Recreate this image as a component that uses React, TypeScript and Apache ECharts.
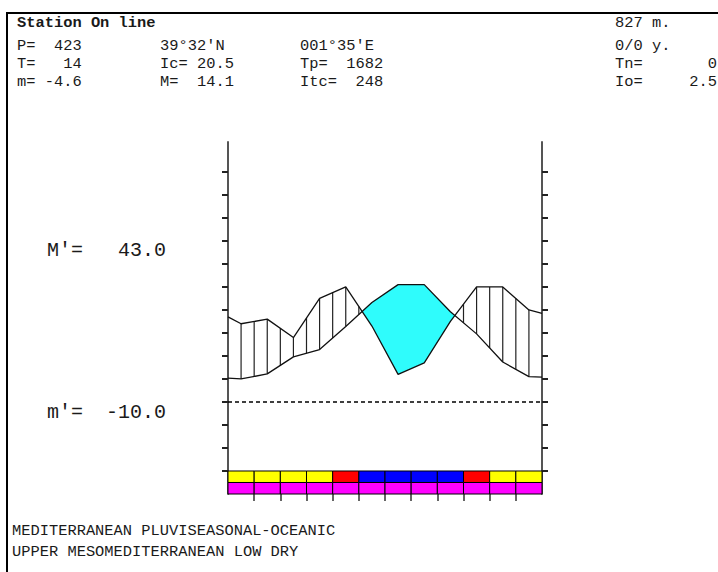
import React, { useEffect, useRef } from 'react';
import * as echarts from 'echarts';

// ---- data ----
const months = ['Jan', 'Feb', 'Mar', 'Apr', 'May', 'Jun', 'Jul', 'Aug', 'Sep', 'Oct', 'Nov', 'Dec'];
const tempMonthly = [5.0, 6.1, 9.8, 11.4, 16.4, 21.6, 25.5, 25.5, 19.6, 14.8, 8.7, 5.5];
const precipMonthly = [34, 36, 28, 45, 50, 33, 12, 17, 35, 50, 50, 40];
const tempEdges = [5.2, 5.4];
const precipEdges = [37, 38.5];
const activityRow = ['Y', 'Y', 'Y', 'Y', 'R', 'B', 'B', 'B', 'B', 'R', 'Y', 'Y'];
const baseRow = ['M', 'M', 'M', 'M', 'M', 'M', 'M', 'M', 'M', 'M', 'M', 'M'];
const tempTicks = [-15, -10, -5, 0, 5, 10, 15, 20, 25, 30, 35, 40, 45, 50];
const precipTicks = [-30, -20, -10, 0, 10, 20, 30, 40, 50, 60, 70, 80, 90, 100];
const monthTicks = [1, 2, 3, 4, 5, 6, 7, 8, 9, 10, 11];

const titleText = 'Station On line';
const altitudeText = '827 m.';
const headerCol1 = ['P=  423', 'T=   14', 'm= -4.6'];
const headerCol2 = ["39°32'N", 'Ic= 20.5', 'M=  14.1'];
const headerCol3 = ["001°35'E", 'Tp=  1682', 'Itc=  248'];
const headerCol4Labels = ['0/0 y.', 'Tn=', 'Io='];
const headerCol4Values = ['', '0', '2.5'];
const extremeLabels = ["M'=", "m'="];
const extremeValues = ['43.0', '-10.0'];
const footerLines = ['MEDITERRANEAN PLUVISEASONAL-OCEANIC', 'UPPER MESOMEDITERRANEAN LOW DRY'];

const colorMap: Record<string, string> = { Y: '#ffff00', R: '#ff0000', B: '#0000ff', M: '#ff00ff' };

const FONT = '"Liberation Mono", "DejaVu Sans Mono", monospace';

export default function App() {
  const ref = useRef<HTMLDivElement>(null);
  useEffect(() => {
    document.body.style.margin = '0';
    if (!ref.current) return;
    const chart = echarts.init(ref.current, null, { renderer: 'svg' });

    const tempPoints: number[][] = [[0, tempEdges[0]], ...tempMonthly.map((v, i) => [i + 0.5, v]), [12, tempEdges[1]]];
    const precipPoints: number[][] = [[0, precipEdges[0]], ...precipMonthly.map((v, i) => [i + 0.5, v]), [12, precipEdges[1]]];
    const pts = tempPoints.map((p, i) => ({ x: p[0], t: p[1], q: precipPoints[i][1] / 2 }));

    const renderClimate = (params: any, api: any) => {
      const children: any[] = [];
      let upper: number[][] | null = null;
      let lower: number[][] = [];
      const close = () => {
        if (upper) {
          const poly = [...upper, ...lower.slice().reverse()].map((p) => api.coord(p));
          children.push({ type: 'polygon', shape: { points: poly }, style: { fill: '#2ffcfc', stroke: null } });
        }
        upper = null;
        lower = [];
      };
      for (let i = 0; i < pts.length - 1; i++) {
        const a = pts[i];
        const b = pts[i + 1];
        const da = a.t - a.q;
        const db = b.t - b.q;
        if (i === 0 && da > 0) {
          upper = [[a.x, a.t]];
          lower = [[a.x, a.q]];
        }
        if (da <= 0 && db > 0) {
          const f = da / (da - db);
          const xi = a.x + f * (b.x - a.x);
          const yi = a.t + f * (b.t - a.t);
          upper = [[xi, yi]];
          lower = [];
        }
        if (upper) {
          if (db > 0) {
            upper.push([b.x, b.t]);
            lower.push([b.x, b.q]);
          } else {
            const f = da / (da - db);
            const xi = a.x + f * (b.x - a.x);
            const yi = a.t + f * (b.t - a.t);
            upper.push([xi, yi]);
            close();
          }
        }
      }
      close();
      for (let k = 1; k < 24; k++) {
        const x = k * 0.5;
        let j = 0;
        while (j < pts.length - 2 && pts[j + 1].x < x) j++;
        const a = pts[j];
        const b = pts[j + 1];
        const f = (x - a.x) / (b.x - a.x);
        const t = a.t + f * (b.t - a.t);
        const q = a.q + f * (b.q - a.q);
        if (q > t + 0.05) {
          const p1 = api.coord([x, q]);
          const p2 = api.coord([x, t]);
          children.push({
            type: 'line',
            shape: { x1: p1[0], y1: p1[1], x2: p2[0], y2: p2[1] },
            style: { stroke: '#222', lineWidth: 1.2 },
          });
        }
      }
      return { type: 'group', children };
    };

    const bandBounds = [[-15, -17.5], [-17.5, -20]];
    const bandData = [
      ...activityRow.map((c, i) => [i, 0, c]),
      ...baseRow.map((c, i) => [i, 1, c]),
    ];
    const renderBand = (params: any, api: any) => {
      const i = api.value(0);
      const row = api.value(1);
      const code = bandData[params.dataIndex][2] as string;
      const [top, bottom] = bandBounds[row];
      const p1 = api.coord([i, top]);
      const p2 = api.coord([i + 1, bottom]);
      return {
        type: 'rect',
        shape: { x: p1[0], y: p1[1], width: p2[0] - p1[0], height: p2[1] - p1[1] },
        style: { fill: colorMap[code], stroke: '#000', lineWidth: 1 },
      };
    };

    const textEl = (text: string, x: number, y: number, size: number, opts: any = {}) => ({
      type: 'text',
      x,
      y,
      silent: true,
      style: {
        text,
        fill: '#1a1a1a',
        font: `${opts.bold ? 'bold ' : ''}${size}px ${FONT}`,
        align: opts.align || 'left',
        verticalAlign: 'middle',
      },
    });

    const FS = 15.4;
    const rowsY = [46, 64, 82];
    const graphics: any[] = [
      { type: 'rect', silent: true, shape: { x: 7, y: 13, width: 800, height: 700 }, style: { fill: 'none', stroke: '#000', lineWidth: 2 } },
      textEl(titleText, 17, 23, FS, { bold: true }),
      textEl(altitudeText, 615, 23, FS),
    ];
    [headerCol1, headerCol2, headerCol3].forEach((col, ci) => {
      const xs = [17, 160, 300];
      col.forEach((t, ri) => graphics.push(textEl(t, xs[ci], rowsY[ri], FS)));
    });
    headerCol4Labels.forEach((l, ri) => {
      graphics.push(textEl(l, 615, rowsY[ri], FS));
      if (headerCol4Values[ri]) graphics.push(textEl(headerCol4Values[ri], 717, rowsY[ri], FS, { align: 'right' }));
    });
    const extY = [250, 412];
    extremeLabels.forEach((l, i) => {
      graphics.push(textEl(l, 47, extY[i], 20));
      graphics.push(textEl(extremeValues[i], 166, extY[i], 20, { align: 'right' }));
    });
    footerLines.forEach((l, i) => graphics.push(textEl(l, 12, 531 + i * 21, FS)));

    chart.setOption({
      animation: false,
      backgroundColor: '#ffffff',
      grid: { left: 228, right: 176, top: 142, bottom: 78, containLabel: false },
      xAxis: {
        type: 'value',
        min: 0,
        max: 12,
        interval: 1,
        position: 'bottom',
        axisLine: { show: false, onZero: false },
        axisTick: { show: true, customValues: monthTicks, length: 7, lineStyle: { color: '#333', width: 1.5 } },
        axisLabel: { show: false },
        splitLine: { show: false },
      },
      yAxis: [
        {
          type: 'value',
          min: -20,
          max: 56.5,
          position: 'left',
          axisLine: { show: true, onZero: false, lineStyle: { color: '#555', width: 2 } },
          axisTick: { show: true, customValues: tempTicks, length: 6, lineStyle: { color: '#222', width: 2 } },
          axisLabel: { show: false },
          splitLine: { show: false },
        },
        {
          type: 'value',
          min: -40,
          max: 113,
          position: 'right',
          axisLine: { show: true, onZero: false, lineStyle: { color: '#555', width: 2 } },
          axisTick: { show: true, customValues: precipTicks, length: 6, lineStyle: { color: '#222', width: 2 } },
          axisLabel: { show: false },
          splitLine: { show: false },
        },
      ],
      graphic: graphics,
      series: [
        {
          type: 'custom',
          name: 'climate-fill',
          xAxisIndex: 0,
          yAxisIndex: 0,
          data: [[0, 0]],
          renderItem: renderClimate,
          silent: true,
          z: 1,
        },
        {
          type: 'line',
          name: 'Temperature',
          xAxisIndex: 0,
          yAxisIndex: 0,
          data: tempPoints,
          symbol: 'none',
          lineStyle: { color: '#111', width: 1.3 },
          silent: true,
          z: 3,
          markLine: {
            silent: true,
            symbol: ['none', 'none'],
            label: { show: false },
            lineStyle: { color: '#000', type: [4, 3], width: 1.5 },
            data: [{ yAxis: 0 }],
          },
        },
        {
          type: 'line',
          name: 'Precipitation',
          xAxisIndex: 0,
          yAxisIndex: 1,
          data: precipPoints,
          symbol: 'none',
          lineStyle: { color: '#111', width: 1.3 },
          silent: true,
          z: 3,
        },
        {
          type: 'custom',
          name: 'months',
          xAxisIndex: 0,
          yAxisIndex: 0,
          data: bandData.map((d) => [d[0], d[1]]),
          renderItem: renderBand,
          silent: true,
          z: 4,
        },
      ],
    });
    return () => chart.dispose();
  }, []);
  return <div ref={ref} style={{ width: 718, height: 572 }} data-months={months.join(',')} />;
}
